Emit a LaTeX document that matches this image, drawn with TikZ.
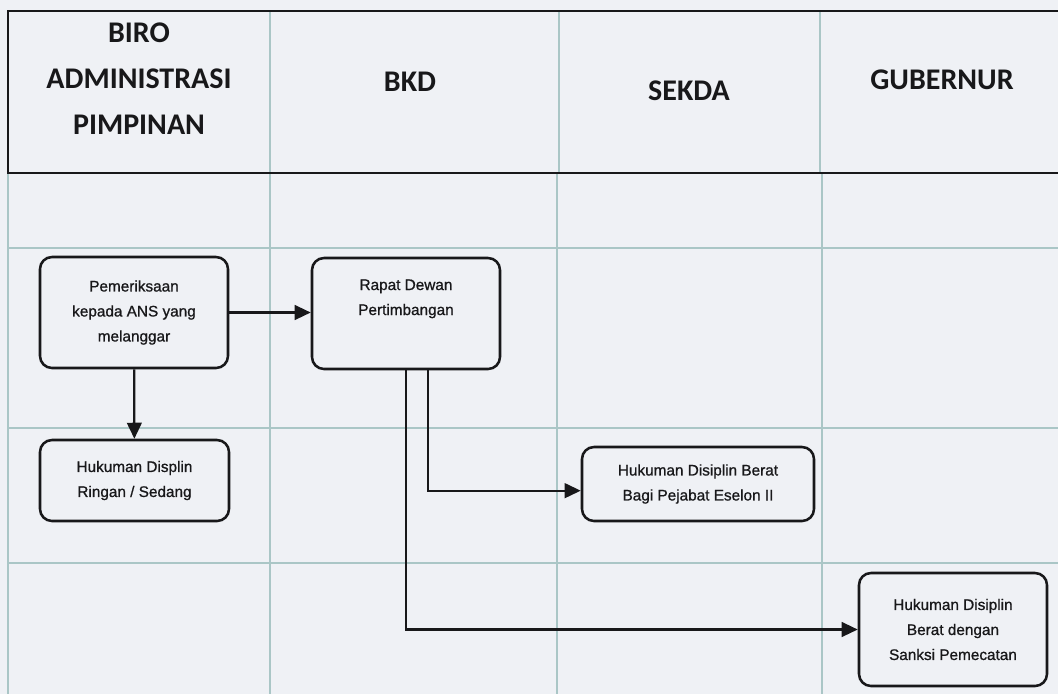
\documentclass[tikz,border=0pt]{standalone}
\usepackage{fontspec}
\setmainfont{Liberation Sans}
\newfontfamily\boxfont[FakeBold=0.9]{Liberation Sans}
\newfontfamily\headfont{Carlito}
\usetikzlibrary{arrows.meta}
\definecolor{paper}{RGB}{239,241,245}
\definecolor{gridc}{RGB}{170,198,198}
\definecolor{ink}{RGB}{24,24,26}
\tikzset{
  gridline/.style={draw=gridc, line width=1pt},
  frameline/.style={draw=ink, line width=1.8pt},
  head/.style={font=\headfont\bfseries\fontsize{22.5}{34.5}\selectfont, text=ink, align=center, inner sep=0pt},
  stepbox/.style={draw=ink, line width=1.9pt, rounded corners=9pt, align=center,
    font=\boxfont\fontsize{11.5}{18.75}\selectfont, text=ink, inner sep=0pt},
  conn/.style={draw=ink, line width=1.7pt, -{Triangle[length=12pt,width=11pt]}},
}
\begin{document}
\begin{tikzpicture}[x=0.75pt,y=-0.75pt]
  % page
  \fill[paper] (0,0) rectangle (1058,694);
  \useasboundingbox (0,0) rectangle (1058,694);

  % swimlane grid below the header
  \foreach \yy in {248,428,563} \draw[gridline] (8,\yy) -- (1058,\yy);
  \foreach \xx in {8,270,557,822} \draw[gridline] (\xx,173) -- (\xx,694);
  % column dividers inside the header
  \foreach \xx in {270,559,820} \draw[gridline] (\xx,11) -- (\xx,173);

  % header frame
  \draw[frameline] (1058,11) -- (8,11) -- (8,173) -- (1058,173);

  % lane titles
  \node[head] (hbiro) at (139,79) {BIRO\\ADMINISTRASI\\PIMPINAN};
  \node[head] (hbkd)  at (410,82) {BKD};
  \node[head] (hsekda) at (689,91) {SEKDA};
  \node[head] (hgub)  at (942,80) {GUBERNUR};

  % process boxes
  \node[stepbox, minimum width=141pt, minimum height=83.25pt] (pem) at (134,312.5)
    {Pemeriksaan\\kepada ANS yang\\melanggar};
  \node[stepbox, minimum width=141pt, minimum height=83.25pt] (rapat) at (406,313.5)
    {Rapat Dewan\\Pertimbangan\\\strut};
  \node[stepbox, minimum width=141.75pt, minimum height=60.75pt] (ringan) at (134.5,480.5)
    {Hukuman Displin\\Ringan / Sedang};
  \node[stepbox, minimum width=174pt, minimum height=55.5pt] (sekda) at (698,484)
    {Hukuman Disiplin Berat\\Bagi Pejabat Eselon II};
  \node[stepbox, minimum width=141pt, minimum height=84.75pt] (gub) at (953,629.5)
    {Hukuman Disiplin\\Berat dengan\\Sanksi Pemecatan};

  % flow
  \draw[conn] (pem.east) -- (pem.east -| rapat.west);
  \draw[conn] (pem) -- (ringan);
  \draw[conn] ([xshift=16.5pt]rapat.south) |- ([yshift=-5pt]sekda.west);
  \draw[conn] (rapat.south) |- (gub.west);
\end{tikzpicture}
\end{document}
